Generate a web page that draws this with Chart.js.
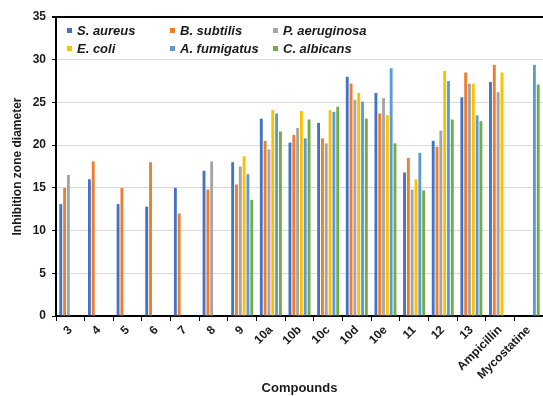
<!DOCTYPE html>
<html lang="en">
<head>
  <meta charset="UTF-8" />
  <title>Inhibition zone diameter by compound</title>
  <script src="https://cdn.jsdelivr.net/npm/chart.js"></script>
  <style>
    html, body {
      margin: 0;
      padding: 0;
      background: #fff;
    }
    .wrap {
      width: 543px;
      height: 396px;
    }
  </style>
</head>
<body>
<div class="wrap">
  <canvas id="chart" width="543" height="396"></canvas>
</div>

<script>
const compounds = ["3", "4", "5", "6", "7", "8", "9", "10a", "10b", "10c", "10d", "10e", "11", "12", "13", "Ampicillin", "Mycostatine"];

const sAureus      = [13.1, 16.0, 13.1, 12.8, 15.0, 17.0, 18.0, 23.1, 20.3, 22.6, 28.0, 26.1, 16.8, 20.5, 25.6, 27.4, null];
const bSubtilis    = [15.0, 18.1, 15.0, 18.0, 12.0, 14.8, 15.4, 20.5, 21.2, 20.8, 27.2, 23.7, 18.5, 19.8, 28.5, 29.4, null];
const pAeruginosa  = [16.5, null, null, null, null, 18.1, 17.5, 19.5, 22.0, 20.2, 25.3, 25.5, 14.8, 21.7, 27.2, 26.2, null];
const eColi        = [null, null, null, null, null, null, 18.7, 24.1, 24.0, 24.1, 26.1, 23.5, 16.0, 28.7, 27.2, 28.5, null];
const aFumigatus   = [null, null, null, null, null, null, 16.6, 23.7, 20.8, 23.9, 25.1, 29.0, 19.1, 27.5, 23.5, null, 29.4];
const cAlbicans    = [null, null, null, null, null, null, 13.6, 21.6, 23.0, 24.5, 23.1, 20.2, 14.7, 23.0, 22.8, null, 27.1];

const yTicks = [0, 5, 10, 15, 20, 25, 30, 35];

const FONT = "'Liberation Sans', Arial, sans-serif";

// legend drawn in a 3-column grid inside the plot, like the original
const gridLegend = {
  id: "gridLegend",
  afterDraw(chart, args, opts) {
    const ctx = chart.ctx;
    const area = chart.chartArea;
    ctx.save();
    ctx.font = "italic bold 13px " + FONT;
    ctx.textBaseline = "middle";
    ctx.textAlign = "left";
    chart.data.datasets.forEach((ds, i) => {
      const col = i % 3, row = Math.floor(i / 3);
      const x = area.left + opts.left + col * opts.colWidth;
      const y = area.top + opts.top + row * opts.rowHeight;
      ctx.fillStyle = ds.backgroundColor;
      ctx.fillRect(x, y - 3, 5, 5);
      ctx.fillStyle = "#1a1a1a";
      ctx.fillText(ds.label, x + 10, y);
    });
    ctx.restore();
  }
};

const ctx = document.getElementById("chart").getContext("2d");
new Chart(ctx, {
  type: "bar",
  data: {
    labels: compounds,
    datasets: [
      { label: "S. aureus", data: sAureus, backgroundColor: "#4472C4" },
      { label: "B. subtilis", data: bSubtilis, backgroundColor: "#ED7D31" },
      { label: "P. aeruginosa", data: pAeruginosa, backgroundColor: "#A5A5A5" },
      { label: "E. coli", data: eColi, backgroundColor: "#FFC000" },
      { label: "A. fumigatus", data: aFumigatus, backgroundColor: "#5B9BD5" },
      { label: "C. albicans", data: cAlbicans, backgroundColor: "#70AD47" }
    ]
  },
  options: {
    responsive: false,
    animation: false,
    layout: { padding: { top: 17, right: 0, bottom: 0, left: 0 } },
    datasets: {
      bar: { categoryPercentage: 0.8, barPercentage: 0.75 }
    },
    plugins: {
      legend: { display: false },
      tooltip: { enabled: false },
      gridLegend: { left: 11, top: 14, colWidth: 103, rowHeight: 18 }
    },
    scales: {
      x: {
        grid: {
          drawOnChartArea: false,
          drawTicks: true,
          tickLength: 5,
          color: "#000"
        },
        border: { color: "#000", width: 2 },
        ticks: {
          autoSkip: false,
          minRotation: 45,
          maxRotation: 45,
          padding: 2,
          color: "#1a1a1a",
          font: { family: FONT, size: 12, weight: "bold" }
        },
        title: {
          display: true,
          text: "Compounds",
          color: "#1a1a1a",
          padding: { top: 4, bottom: 0 },
          font: { family: FONT, size: 13, weight: "bold" }
        },
        afterFit(scale) { scale.height = 80; }
      },
      y: {
        min: 0,
        max: 35,
        afterBuildTicks(scale) { scale.ticks = yTicks.map(v => ({ value: v })); },
        grid: {
          color: c => c.tick && c.tick.value === 35 ? "#000" : "#d9d9d9",
          lineWidth: c => c.tick && c.tick.value === 35 ? 2 : 1,
          drawTicks: true,
          tickLength: 4,
          tickColor: "#000"
        },
        border: { color: "#000", width: 2 },
        ticks: {
          padding: 6,
          color: "#1a1a1a",
          font: { family: FONT, size: 12, weight: "bold" }
        },
        title: {
          display: true,
          text: "Inhibition zone diameter",
          color: "#1a1a1a",
          padding: { top: 10, bottom: 0 },
          font: { family: FONT, size: 12, weight: "bold" }
        },
        afterFit(scale) { scale.width = 56; }
      }
    }
  },
  plugins: [gridLegend]
});
</script>
</body>
</html>
